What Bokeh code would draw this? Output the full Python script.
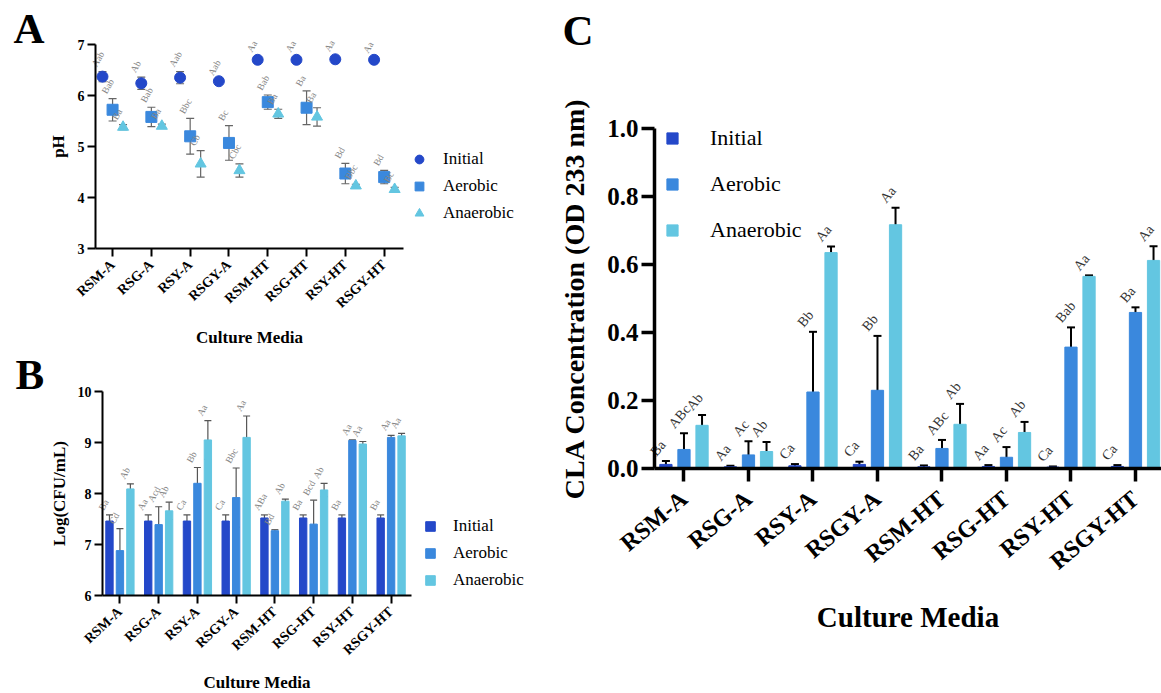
import math
import numpy as np
from bokeh.plotting import figure
from bokeh.models import (ColumnDataSource, Whisker, TeeHead, Legend, LegendItem,
                          FixedTicker, Label, Range1d, PrintfTickFormatter)
from bokeh.layouts import row, column
from bokeh.embed import file_html
from bokeh.resources import INLINE
from bokeh.core.properties import value

# ---------------- data ----------------
media = ["RSM-A", "RSG-A", "RSY-A", "RSGY-A", "RSM-HT", "RSG-HT", "RSY-HT", "RSGY-HT"]
series = ["Initial", "Aerobic", "Anaerobic"]

# Panel A: pH
ph_initial = [6.37, 6.24, 6.35, 6.28, 6.70, 6.70, 6.71, 6.70]
ph_initial_err = [0.10, 0.12, 0.12, 0.02, 0.06, 0.06, 0.06, 0.04]
ph_aerobic = [5.72, 5.58, 5.20, 5.07, 5.87, 5.76, 4.47, 4.40]
ph_aerobic_err = [0.22, 0.19, 0.35, 0.34, 0.14, 0.33, 0.20, 0.13]
ph_anaerobic = [5.38, 5.40, 4.66, 4.53, 5.64, 5.58, 4.23, 4.16]
ph_anaerobic_err = [0.05, 0.04, 0.26, 0.13, 0.09, 0.18, 0.03, 0.04]
ph_initial_lbl = ["Aab", "Ab", "Aab", "Aab", "Aa", "Aa", "Aa", "Aa"]
ph_aerobic_lbl = ["Bab", "Bab", "Bbc", "Bc", "Bab", "Ba", "Bd", "Bd"]
ph_anaerobic_lbl = ["Ba", "Ba", "Cb", "Cbc", "Ba", "Ba", "Bbc", "Bc"]

# Panel B: Log(CFU/mL)
cfu_initial = [7.46, 7.46, 7.46, 7.46, 7.52, 7.52, 7.52, 7.52]
cfu_initial_err = [0.12, 0.12, 0.12, 0.12, 0.06, 0.06, 0.06, 0.06]
cfu_aerobic = [6.88, 7.39, 8.20, 7.92, 7.27, 7.40, 9.04, 9.10]
cfu_aerobic_err = [0.43, 0.35, 0.31, 0.58, 0.02, 0.47, 0.01, 0.04]
cfu_anaerobic = [8.09, 7.66, 9.05, 9.10, 7.85, 8.07, 8.97, 9.13]
cfu_anaerobic_err = [0.10, 0.17, 0.38, 0.42, 0.04, 0.13, 0.05, 0.05]
cfu_initial_lbl = ["Ba", "Aa", "Ca", "Ca", "ABa", "Ba", "Ba", "Ba"]
cfu_aerobic_lbl = ["Cd", "Acd", "Bb", "Bbc", "Bd", "Bcd", "Aa", "Aa"]
cfu_anaerobic_lbl = ["Ab", "Ab", "Aa", "Aa", "Ab", "Ab", "Aa", "Aa"]

# Panel C: CLA concentration (OD 233 nm)
cla_initial = [0.012, 0.005, 0.008, 0.012, 0.005, 0.006, 0.004, 0.006]
cla_initial_err = [0.010, 0.003, 0.005, 0.008, 0.004, 0.004, 0.002, 0.004]
cla_aerobic = [0.056, 0.040, 0.225, 0.230, 0.059, 0.033, 0.357, 0.459]
cla_aerobic_err = [0.048, 0.040, 0.177, 0.160, 0.025, 0.030, 0.058, 0.015]
cla_anaerobic = [0.127, 0.050, 0.635, 0.717, 0.130, 0.106, 0.565, 0.612]
cla_anaerobic_err = [0.030, 0.028, 0.018, 0.050, 0.060, 0.031, 0.003, 0.042]
cla_initial_lbl = ["Ba", "Aa", "Ca", "Ca", "Ba", "Aa", "Ca", "Ca"]
cla_aerobic_lbl = ["ABc", "Ac", "Bb", "Bb", "ABc", "Ac", "Bab", "Ba"]
cla_anaerobic_lbl = ["Ab", "Ab", "Aa", "Aa", "Ab", "Ab", "Aa", "Aa"]

# ---------------- style ----------------
FONT = "Liberation Serif"
COLORS = ["#2448C9", "#3A88DD", "#63C6E1"]
idx = np.arange(len(media))


def make_fig(w, h, px_left, px_top, px_bottom, ux, uy, x_bounds, y_bounds, xlabel, ylabel):
    """Frame covers the whole figure; axes are pinned (fixed_location) at the data bounds."""
    x0 = x_bounds[0] - px_left / ux
    y1 = y_bounds[1] + px_top / uy
    y0 = y_bounds[0] - (h - px_bottom) / uy
    p = figure(width=w, height=h, x_range=Range1d(x0, x0 + w / ux), y_range=Range1d(y0, y1),
               output_backend="svg", toolbar_location=None, title=None,
               min_border=0, min_border_left=0, min_border_right=0,
               min_border_top=0, min_border_bottom=0,
               x_axis_label=xlabel, y_axis_label=ylabel)
    p.xaxis.fixed_location = y_bounds[0]
    p.yaxis.fixed_location = x_bounds[0]
    p.xaxis.bounds = x_bounds
    p.yaxis.bounds = y_bounds
    p.xgrid.visible = False
    p.ygrid.visible = False
    p.outline_line_color = None
    p.background_fill_color = "white"
    p.border_fill_color = "white"
    return p


def style_axes(p, tick_size, xtick_size, label_size, tick_out, lw, yticks, standoffs,
               xangle, xstandoff):
    p.xaxis.ticker = FixedTicker(ticks=list(range(len(media))))
    p.xaxis.major_label_overrides = {i: m for i, m in enumerate(media)}
    p.xaxis.major_label_orientation = math.radians(xangle)
    p.yaxis.ticker = FixedTicker(ticks=yticks)
    for ax in (p.xaxis[0], p.yaxis[0]):
        ax.axis_line_width = lw
        ax.axis_line_color = "black"
        ax.major_tick_line_width = lw
        ax.major_tick_line_color = "black"
        ax.major_tick_out = tick_out
        ax.major_tick_in = 0
        ax.minor_tick_line_color = None
        ax.major_label_text_font = FONT
        ax.major_label_text_font_style = "bold"
        ax.major_label_text_color = "black"
        ax.major_label_standoff = 3
        ax.axis_label_text_font = FONT
        ax.axis_label_text_font_style = "bold"
        ax.axis_label_text_font_size = label_size
        ax.axis_label_text_color = "black"
    p.xaxis.major_label_standoff = xstandoff
    p.xaxis.major_label_text_font_size = xtick_size
    p.yaxis.major_label_text_font_size = tick_size
    p.xaxis.axis_label_standoff = standoffs[0]
    p.yaxis.axis_label_standoff = standoffs[1]


def add_letter(p, txt, x, y):
    p.add_layout(Label(x=x, y=y, x_units="screen", y_units="screen", text=txt,
                       text_font=FONT, text_font_style="bold", text_font_size="43px",
                       text_color="black", text_align="left", text_baseline="alphabetic"))


def add_legend(p, renderers, loc, gw, gh, standoff, spacing, fsize, lheight):
    items = [LegendItem(label=s, renderers=[r]) for s, r in zip(series, renderers)]
    lg = Legend(items=items, location=loc, glyph_width=gw, glyph_height=gh,
                label_standoff=standoff, spacing=spacing, padding=0, margin=0,
                border_line_color=None, background_fill_alpha=0,
                label_height=lheight)
    lg.label_text_font = FONT
    lg.label_text_font_size = fsize
    lg.label_text_color = "black"
    p.add_layout(lg)


# ---------------- Panel A ----------------
pA = make_fig(550, 349, 95, 44, 248, 38.8, 51.0, (-0.44, 7.5), (3, 7), "Culture Media", "pH")
style_axes(pA, "14px", "14px", "17px", 8, 2, [3, 4, 5, 6, 7], (9, 7), 43, 6)

offsA = [-0.26, 0.0, 0.27]
markers = ["circle", "square", "triangle"]
rendA = []
for k, (vals, errs, lbls) in enumerate([(ph_initial, ph_initial_err, ph_initial_lbl),
                                         (ph_aerobic, ph_aerobic_err, ph_aerobic_lbl),
                                         (ph_anaerobic, ph_anaerobic_err, ph_anaerobic_lbl)]):
    v = np.array(vals); e = np.array(errs)
    src = ColumnDataSource(dict(x=idx + offsA[k], y=v, upper=v + e, lower=v - e, lbl=lbls))
    pA.add_layout(Whisker(source=src, base="x", upper="upper", lower="lower", level="underlay",
                          line_color="#666666", line_width=1.2,
                          upper_head=TeeHead(size=8, line_color="#666666", line_width=1.2),
                          lower_head=TeeHead(size=8, line_color="#666666", line_width=1.2)))
    r = pA.scatter("x", "y", source=src, marker=markers[k], size=11,
                   fill_color=COLORS[k], line_color=COLORS[k])
    rendA.append(r)
    pA.text("x", "upper", text="lbl", source=src, angle=math.radians(60),
            text_font=value(FONT), text_font_size="9.5px", text_color="#858585",
            text_align="left", text_baseline="bottom", x_offset=-4, y_offset=-3)
add_legend(pA, rendA, (408, 125), 22, 22, 13, 5, "17px", 22)
add_letter(pA, "A", 13, 321)

# ---------------- Panel B ----------------
pB = make_fig(550, 344, 102, 42, 246, 38.74, 51.0, (-0.45, 7.52), (6, 10),
              "Culture Media", "Log(CFU/mL)")
style_axes(pB, "14px", "14px", "17px", 8, 2, [6, 7, 8, 9, 10], (7, 6), 43, 6)

offsB = [-0.27, 0.0, 0.27]
rendB = []
for k, (vals, errs, lbls) in enumerate([(cfu_initial, cfu_initial_err, cfu_initial_lbl),
                                         (cfu_aerobic, cfu_aerobic_err, cfu_aerobic_lbl),
                                         (cfu_anaerobic, cfu_anaerobic_err, cfu_anaerobic_lbl)]):
    v = np.array(vals); e = np.array(errs)
    src = ColumnDataSource(dict(x=idx + offsB[k], y=v, upper=v + e, lower=v - e, lbl=lbls))
    r = pB.vbar(x="x", top="y", bottom=6, width=0.19, source=src,
                fill_color=COLORS[k], line_color=COLORS[k])
    rendB.append(r)
    pB.add_layout(Whisker(source=src, base="x", upper="upper", lower="lower",
                          line_color="#555555", line_width=1.2,
                          upper_head=TeeHead(size=7, line_color="#555555", line_width=1.2),
                          lower_head=TeeHead(size=7, line_color="#555555", line_width=1.2)))
    pB.text("x", "upper", text="lbl", source=src, angle=math.radians(60),
            text_font=value(FONT), text_font_size="9.5px", text_color="#858585",
            text_align="left", text_baseline="bottom", x_offset=-4, y_offset=-3)
add_legend(pB, rendB, (424, 103.5), 12, 12, 17, 7, "17px", 20)
add_letter(pB, "B", 15, 319)

# ---------------- Panel C ----------------
pC = make_fig(611, 693, 104, 128, 468, 64.5, 340.0, (-0.457, 7.40), (0, 1.0),
              "Culture Media", "CLA Concentration (OD 233 nm)")
style_axes(pC, "25px", "24px", "28px", 13, 3.5, [0, 0.2, 0.4, 0.6, 0.8, 1.0], (14, 14), 40, 14)
pC.yaxis.formatter = PrintfTickFormatter(format="%.1f")
pC.xaxis.axis_label_text_font_size = "29px"

offsC = [-0.28, 0.0, 0.28]
rendC = []
for k, (vals, errs, lbls) in enumerate([(cla_initial, cla_initial_err, cla_initial_lbl),
                                         (cla_aerobic, cla_aerobic_err, cla_aerobic_lbl),
                                         (cla_anaerobic, cla_anaerobic_err, cla_anaerobic_lbl)]):
    v = np.array(vals); e = np.array(errs)
    src = ColumnDataSource(dict(x=idx + offsC[k], y=v, upper=v + e, lower=v - e, lbl=lbls))
    r = pC.vbar(x="x", top="y", bottom=0, width=0.19, source=src,
                fill_color=COLORS[k], line_color=COLORS[k])
    rendC.append(r)
    pC.add_layout(Whisker(source=src, base="x", upper="upper", lower="lower",
                          line_color="black", line_width=2,
                          upper_head=TeeHead(size=8, line_color="black", line_width=2),
                          lower_head=TeeHead(size=8, line_color="black", line_width=2)))
    pC.text("x", "upper", text="lbl", source=src, angle=math.radians(50),
            text_font=value(FONT), text_font_size="14px", text_color="#333333",
            text_align="left", text_baseline="bottom", x_offset=-7, y_offset=-2)
add_legend(pC, rendC, (115, 450), 14, 14, 31, 20, "22px", 25)
add_letter(pC, "C", 12, 663)

layout = row(column(pA, pB), pC)
open("out.html", "w").write(file_html(layout, INLINE))
